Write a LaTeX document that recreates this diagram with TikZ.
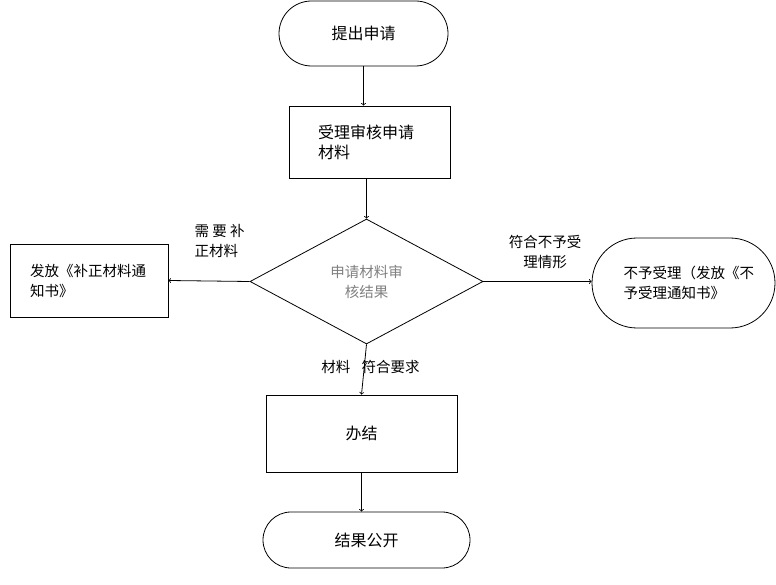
\documentclass[tikz,border=0pt]{standalone}
\usepackage{fontspec}
\newfontfamily\cjk{Noto Sans CJK SC}
\usepackage{xcolor}
\usetikzlibrary{shapes.geometric,shapes.misc}

\begin{document}
\begin{tikzpicture}[x=1pt,y=-1pt,line width=0.8pt,>=to,
		font=\cjk\fontsize{16}{20}\selectfont,
		termbox/.style={draw,rounded rectangle,inner sep=0pt},
		stepbox/.style={draw,rectangle,inner sep=0pt},
		checkbox/.style={draw,diamond,inner sep=0pt},
		smalltext/.style={font=\cjk\fontsize{14.5}{20}\selectfont}]
		\useasboundingbox (0,0) rectangle (776,585);
		
		\node[termbox,minimum width=169pt,minimum height=65pt] (apply) at (363.5,33.5) {提出申请};
		\node[stepbox,minimum width=161pt,minimum height=72pt,text width=103pt,align=left] (review) at (369.5,142) {受理审核申请\\材料};
		\node[checkbox,minimum width=233pt,minimum height=125pt,smalltext,text=gray,align=center] (check) at (366.5,281.5) {申请材料审\\核结果};
		\node[stepbox,minimum width=158pt,minimum height=73pt,text width=118pt,align=left,smalltext] (fix) at (89,280.5) {发放《补正材料通\\知书》};
		\node[termbox,minimum width=183pt,minimum height=90pt,text width=120pt,align=left,smalltext] (reject) at (683.5,283) {不予受理（发放《不\\予受理通知书》};
		\node[stepbox,minimum width=191pt,minimum height=77pt] (done) at (361.5,433.5) {办结};
		\node[termbox,minimum width=207pt,minimum height=56pt] (publish) at (366.5,540) {结果公开};
		
		% labels on the branches
		\node[smalltext,anchor=west,align=left] (needfix) at (191,241) {需 要 补\\正材料};
		\node[smalltext,align=center] (noaccept) at (545,252) {符合不予受\\理情形};
		\node[smalltext,anchor=east] (okleft) at (354,367) {材料};
		\node[smalltext,anchor=west] (okright) at (358,367) {符合要求};
		
		\draw[->] (apply.south) -- (apply.south |- review.north);
		\draw[->] (check.north |- review.south) -- (check.north);
		\draw[->] (check.west) -- (fix.east);
		\draw[->] (check.east) -- (check.east -| reject.west);
		\draw[->] (check.south) -- (done.north);
		\draw[->] (done.south) -- (done.south |- publish.north);
	\end{tikzpicture}
\end{document}
